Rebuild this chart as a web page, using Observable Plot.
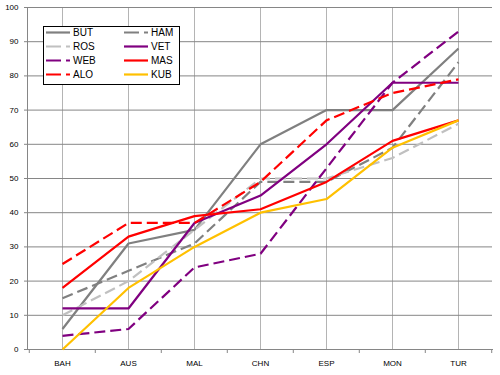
<!DOCTYPE html>
<html><head><meta charset="utf-8">
<script src="https://cdn.jsdelivr.net/npm/d3@7"></script>
<script src="https://cdn.jsdelivr.net/npm/@observablehq/plot@0.6"></script>
<style>body{margin:0;background:#fff} #chart{position:relative;width:500px;height:375px}</style>
</head><body><div id="chart"></div>
<script>
const races = ["BAH","AUS","MAL","CHN","ESP","MON","TUR"];
const drivers = ["BUT","HAM","ROS","VET","WEB","MAS","ALO","KUB"];
const BUT = [6,31,35,60,70,70,88];
const HAM = [15,23,31,49,49,59,84];
const ROS = [10,20,35,50,50,56,66];
const VET = [12,12,37,45,60,78,78];
const WEB = [4,6,24,28,53,78,93];
const MAS = [18,33,39,41,49,61,67];
const ALO = [25,37,37,49,67,75,79];
const KUB = [0,18,30,40,44,59,67];
const series = [BUT,HAM,ROS,VET,WEB,MAS,ALO,KUB];
const colors = ["#808080","#808080","#c0c0c0","#800080","#800080","#ff0000","#ff0000","#ffc000"];
const dashed = [false,true,true,false,true,false,true,false];
const yTicks = [0,10,20,30,40,50,60,70,80,90,100];

const W = 500, H = 375, mL = 27, mR = 8, mT = 7, mB = 26;
const step = (W - mL - mR) / races.length;
const dash = "11,5";
const font = "'Liberation Sans', Arial, sans-serif";

const lineMarks = series.map((vals, k) => Plot.line(races, {
  x: d => d, y: (d, i) => vals[i],
  stroke: colors[k], strokeWidth: 2.2,
  strokeDasharray: dashed[k] ? dash : null,
  strokeLinejoin: "round", strokeLinecap: "butt"
}));

const chart = Plot.plot({
  width: W, height: H,
  marginLeft: mL, marginRight: mR, marginTop: mT, marginBottom: mB,
  style: {fontFamily: font, background: "#fff"},
  x: {type: "point", domain: races, padding: 0.5, axis: null},
  y: {domain: [0, 100], axis: null},
  marks: [
    Plot.gridX(races, {stroke: "#b4b4b4", strokeOpacity: 1}),
    Plot.gridY(yTicks.slice(1), {stroke: "#868686", strokeOpacity: 1}),
    Plot.frame({anchor: "left", stroke: "#868686"}),
    Plot.frame({anchor: "bottom", stroke: "#868686"}),
    Plot.axisY(yTicks, {tickSize: 3, tickPadding: 6, fontSize: 8, stroke: "#868686", fill: "#000"}),
    Plot.axisX(races, {tickSize: 0, tickPadding: 11, fontSize: 8, fill: "#000"}),
    Plot.axisX(races, {tickSize: 4, dx: -step / 2, tickFormat: () => "", stroke: "#868686"}),
    Plot.axisX([races[races.length - 1]], {tickSize: 4, dx: step / 2, tickFormat: () => "", stroke: "#868686"}),
    ...lineMarks
  ]
});
document.getElementById("chart").appendChild(chart);

// legend inside plot
const svg = d3.select(chart);
const lg = svg.append("g").attr("font-family", font).attr("font-size", 10).attr("text-anchor", "start");
lg.append("rect").attr("x", 43.5).attr("y", 26.5).attr("width", 136).attr("height", 58)
  .attr("fill", "#fff").attr("stroke", "#000").attr("stroke-width", 1);
drivers.forEach((name, k) => {
  const col = k % 2, row = Math.floor(k / 2);
  const x0 = col === 0 ? 46 : 124;
  const y0 = 32.5 + row * 14;
  lg.append("line").attr("x1", x0).attr("x2", x0 + 24).attr("y1", y0).attr("y2", y0)
    .attr("stroke", colors[k]).attr("stroke-width", 2.2)
    .attr("stroke-dasharray", dashed[k] ? "15,5" : null);
  lg.append("text").attr("x", x0 + 27).attr("y", y0).attr("dy", "0.35em")
    .attr("text-anchor", "start").attr("fill", "#000").text(name);
});
</script></body></html>
